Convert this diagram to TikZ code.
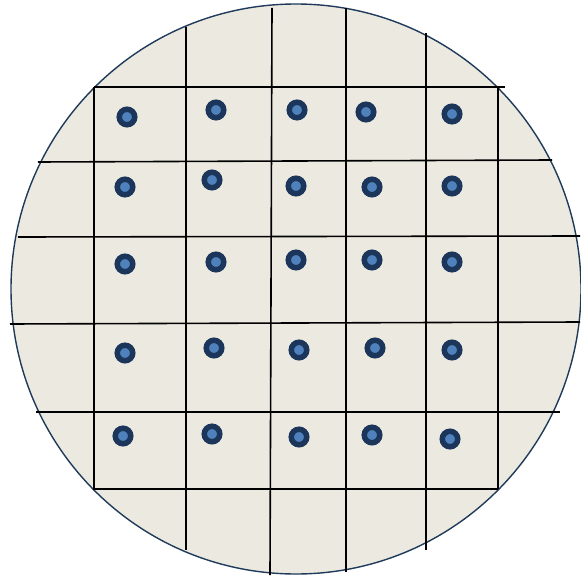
\documentclass[tikz,border=0pt]{standalone}
\definecolor{wafer}{HTML}{ECEAE0}
\definecolor{rim}{HTML}{1F3A5A}
\definecolor{dotout}{HTML}{1B365A}
\definecolor{dotin}{HTML}{4F81BD}
\tikzset{
  gridline/.style={line width=1.6pt, black},
  die/.style={circle, inner sep=0pt, minimum size=15.5pt, line width=5.5pt, draw=dotout, fill=dotin}
}
\begin{document}
\begin{tikzpicture}[x=1pt,y=-1pt]
\useasboundingbox (0,0) rectangle (581,580);
\node[circle, minimum size=570pt, inner sep=0pt, fill=wafer, draw=rim, line width=1.4pt] (wafer) at (296,289) {};
% vertical lines
\draw[gridline] (94,87) -- (94,490);
\draw[gridline] (186,27) -- (186,550);
\draw[gridline] (272,8) -- (270,575);
\draw[gridline] (346,8) -- (346,572);
\draw[gridline] (426,33) -- (426,550);
\draw[gridline] (498,87) -- (498,489);
% horizontal lines
\draw[gridline] (94,87) -- (505,87);
\draw[gridline] (38,162) -- (552,160);
\draw[gridline] (18,237) -- (580,236);
\draw[gridline] (10,324) -- (580,322);
\draw[gridline] (36,412) -- (560,412);
\draw[gridline] (94,489) -- (498,489);
% dies
\node[die] (d11) at (127,117) {};
\node[die] (d12) at (216,110) {};
\node[die] (d13) at (297,110) {};
\node[die] (d14) at (366,112) {};
\node[die] (d15) at (452,114) {};
\node[die] (d21) at (125,187) {};
\node[die] (d22) at (212,180) {};
\node[die] (d23) at (296,186) {};
\node[die] (d24) at (372,187) {};
\node[die] (d25) at (452,186) {};
\node[die] (d31) at (125,264) {};
\node[die] (d32) at (216,262) {};
\node[die] (d33) at (296,260) {};
\node[die] (d34) at (372,260) {};
\node[die] (d35) at (452,262) {};
\node[die] (d41) at (125,353) {};
\node[die] (d42) at (214,348) {};
\node[die] (d43) at (299,350) {};
\node[die] (d44) at (375,348) {};
\node[die] (d45) at (452,350) {};
\node[die] (d51) at (123,436) {};
\node[die] (d52) at (212,434) {};
\node[die] (d53) at (299,437) {};
\node[die] (d54) at (372,435) {};
\node[die] (d55) at (450,439) {};
\end{tikzpicture}
\end{document}
